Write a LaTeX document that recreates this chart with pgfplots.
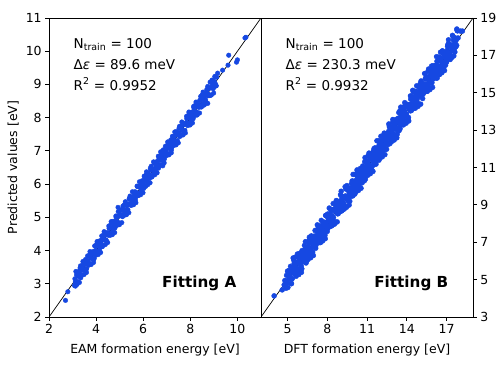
\documentclass[border=0pt]{standalone}
\usepackage{fontspec}
\setmainfont{DejaVu Sans}
\usepackage{pgfplots}
\pgfplotsset{compat=1.18}
\definecolor{ptblue}{HTML}{1648E2}

\pgfplotsset{
  parity/.style={
    scale only axis, width=212pt, height=299pt,
    anchor=south west,
    axis line style={line width=0.8pt},
    tick align=outside, major tick length=3.8pt,
    tick style={black, line width=0.8pt},
    tick label style={font=\fontsize{12.5}{14}\selectfont},
    label style={font=\fontsize{12.5}{14}\selectfont},
    xlabel style={yshift=-3pt},
    /pgf/number format/assume math mode=true,
    clip=true,
  },
  pts/.style={only marks, mark=*, mark size=2.3pt, color=ptblue, mark options={draw=ptblue, fill=ptblue}},
  diag/.style={black, line width=0.7pt, no marks},
}

\begin{document}
\begin{tikzpicture}
\path[use as bounding box] (0pt,0pt) rectangle (498pt,-374pt);

% left panel: EAM
\begin{axis}[parity, at={(49pt,-317pt)},
  xmin=2, xmax=11, ymin=2, ymax=11,
  xtick={2,4,6,8,10}, ytick={2,3,...,11},
  xtick pos=left, ytick pos=left,
  xlabel={EAM formation energy [eV]},
  ylabel={Predicted values [eV]},
]
\addplot[pts] coordinates {
(3.10,3.15)(3.12,3.06)(3.15,3.03)(3.17,3.27)(3.20,3.35)(3.22,3.07)(3.25,3.22)(3.27,3.30)
(3.30,3.39)(3.32,3.48)(3.35,3.18)(3.37,3.27)(3.40,3.41)(3.42,3.49)(3.45,3.57)(3.47,3.41)
(3.50,3.42)(3.52,3.62)(3.55,3.73)(3.57,3.42)(3.60,3.46)(3.62,3.65)(3.65,3.70)(3.67,3.83)
(3.70,3.58)(3.72,3.62)(3.75,3.90)(3.77,3.84)(3.80,3.77)(3.82,3.76)(3.85,3.94)(3.87,3.97)
(3.90,3.73)(3.92,3.77)(3.95,3.96)(3.97,4.00)(4.00,4.12)(4.02,4.18)(4.05,3.97)(4.07,3.97)
(4.10,4.28)(4.12,4.19)(4.15,4.01)(4.17,4.11)(4.20,4.25)(4.22,4.32)(4.25,4.13)(4.27,4.12)
(4.30,4.45)(4.32,4.35)(4.35,4.32)(4.37,4.53)(4.40,4.49)(4.42,4.32)(4.45,4.28)(4.47,4.54)
(4.50,4.51)(4.52,4.46)(4.55,4.67)(4.57,4.67)(4.60,4.52)(4.62,4.47)(4.65,4.83)(4.67,4.70)
(4.70,4.56)(4.72,4.88)(4.75,4.80)(4.77,4.67)(4.80,4.68)(4.82,4.89)(4.85,5.00)(4.87,4.81)
(4.90,4.87)(4.92,5.02)(4.95,5.04)(4.97,4.82)(5.00,4.83)(5.02,5.05)(5.05,5.06)(5.07,5.23)
(5.10,5.22)(5.12,5.02)(5.15,5.07)(5.17,5.24)(5.20,5.38)(5.22,5.16)(5.25,5.11)(5.27,5.37)
(5.30,5.35)(5.32,5.17)(5.35,5.23)(5.37,5.40)(5.40,5.55)(5.42,5.58)(5.45,5.42)(5.47,5.37)
(5.50,5.59)(5.52,5.59)(5.55,5.38)(5.57,5.51)(5.60,5.61)(5.62,5.72)(5.65,5.77)(5.67,5.52)
(5.70,5.62)(5.72,5.75)(5.75,5.93)(5.77,5.93)(5.80,5.66)(5.82,5.72)(5.85,5.90)(5.87,5.94)
(5.90,5.78)(5.92,5.86)(5.95,6.10)(5.97,6.07)(6.00,5.97)(6.02,5.87)(6.05,6.14)(6.07,6.10)
(6.10,5.93)(6.12,6.28)(6.15,6.16)(6.17,6.07)(6.20,6.32)(6.22,6.29)(6.25,6.17)(6.27,6.21)
(6.30,6.48)(6.32,6.42)(6.35,6.21)(6.37,6.22)(6.40,6.45)(6.42,6.45)(6.45,6.33)(6.47,6.63)
(6.50,6.65)(6.52,6.42)(6.55,6.52)(6.57,6.64)(6.60,6.69)(6.62,6.56)(6.65,6.48)(6.67,6.77)
(6.70,6.71)(6.72,6.57)(6.75,6.87)(6.77,6.80)(6.80,6.72)(6.82,6.98)(6.85,7.03)(6.87,6.77)
(6.90,6.76)(6.92,6.99)(6.95,7.00)(6.97,6.91)(7.00,6.88)(7.02,7.12)(7.05,7.20)(7.07,6.92)
(7.10,7.07)(7.12,7.15)(7.15,7.24)(7.17,7.33)(7.20,7.03)(7.22,7.12)(7.25,7.26)(7.27,7.34)
(7.30,7.42)(7.32,7.26)(7.35,7.27)(7.37,7.47)(7.40,7.58)(7.42,7.27)(7.45,7.31)(7.47,7.50)
(7.50,7.55)(7.52,7.68)(7.55,7.43)(7.57,7.47)(7.60,7.75)(7.62,7.69)(7.65,7.62)(7.67,7.61)
(7.70,7.79)(7.72,7.82)(7.75,7.58)(7.77,7.62)(7.80,7.81)(7.82,7.85)(7.85,7.97)(7.87,8.03)
(7.90,7.82)(7.92,7.82)(7.95,8.13)(7.97,8.04)(8.00,7.86)(8.02,7.96)(8.05,8.10)(8.07,8.17)
(8.10,7.98)(8.12,7.97)(8.15,8.30)(8.17,8.20)(8.20,8.17)(8.22,8.38)(8.25,8.34)(8.27,8.17)
(8.30,8.13)(8.32,8.39)(8.35,8.36)(8.37,8.31)(8.40,8.52)(8.42,8.52)(8.45,8.37)(8.47,8.32)
(8.50,8.68)(8.52,8.55)(8.55,8.41)(8.57,8.73)(8.60,8.65)(8.62,8.52)(8.65,8.53)(8.67,8.74)
(8.70,8.85)(8.72,8.66)(8.75,8.72)(8.77,8.87)(8.80,8.89)(8.82,8.67)(8.85,8.68)(8.87,8.90)
(8.90,8.91)(8.92,9.08)(8.95,9.07)(8.97,8.87)(9.00,8.92)(9.02,9.09)(9.05,9.23)(9.07,9.01)
(9.10,8.96)(9.12,9.22)
(3.14,3.37)(3.19,2.98)(3.24,3.29)(3.29,3.04)(3.34,3.54)(3.39,3.26)(3.44,3.67)(3.49,3.28)
(3.54,3.59)(3.59,3.34)(3.64,3.84)(3.69,3.56)(3.74,3.97)(3.79,3.58)(3.84,3.89)(3.89,3.64)
(3.94,4.14)(3.99,3.86)(4.04,4.27)(4.09,3.88)(4.14,4.19)(4.19,3.94)(4.24,4.44)(4.29,4.16)
(4.34,4.57)(4.39,4.18)(4.44,4.49)(4.49,4.24)(4.54,4.74)(4.59,4.46)(4.64,4.87)(4.69,4.48)
(4.74,4.79)(4.79,4.54)(4.84,5.04)(4.89,4.76)(4.94,5.17)(4.99,4.78)(5.04,5.09)(5.09,4.84)
(5.14,5.34)(5.19,5.06)(5.24,5.47)(5.29,5.08)(5.34,5.39)(5.39,5.14)(5.44,5.64)(5.49,5.36)
(5.54,5.77)(5.59,5.38)(5.64,5.69)(5.69,5.44)(5.74,5.94)(5.79,5.66)(5.84,6.07)(5.89,5.68)
(5.94,5.99)(5.99,5.74)(6.04,6.24)(6.09,5.96)(6.14,6.37)(6.19,5.98)(6.24,6.29)(6.29,6.04)
(6.34,6.54)(6.39,6.26)(6.44,6.67)(6.49,6.28)(6.54,6.59)(6.59,6.34)(6.64,6.84)(6.69,6.56)
(6.74,6.97)(6.79,6.58)(6.84,6.89)(6.89,6.64)(6.94,7.14)(6.99,6.86)(7.04,7.27)(7.09,6.88)
(7.14,7.19)(7.19,6.94)(7.24,7.44)(7.29,7.16)(7.34,7.57)(7.39,7.18)(7.44,7.49)(7.49,7.24)
(7.54,7.74)(7.59,7.46)(7.64,7.87)(7.69,7.48)(7.74,7.79)(7.79,7.54)(7.84,8.04)(7.89,7.76)
(7.94,8.17)(7.99,7.78)(8.04,8.09)(8.09,7.84)(8.14,8.34)(8.19,8.06)(8.24,8.47)(8.29,8.08)
(8.34,8.39)(8.39,8.14)(8.44,8.64)(8.49,8.36)(8.54,8.77)(8.59,8.38)(8.64,8.69)(8.69,8.44)
(8.74,8.94)(8.79,8.66)(8.84,9.07)(8.89,8.68)(8.94,8.99)(8.99,8.74)(9.04,9.24)(9.09,8.96)
(2.70,2.50)(2.80,2.76)(3.08,2.95)(3.12,2.93)(8.92,9.13)(9.16,9.34)(9.37,9.43)(9.60,9.58)
(9.63,9.88)(9.96,9.67)(10.00,9.74)(10.32,10.40)(10.36,10.42)(8.74,8.43)(4.93,5.30)(6.83,6.55)
};
\addplot[diag] coordinates {(2,2) (11,11)};
\node[anchor=base west, font=\fontsize{13.5}{16}\selectfont] at (rel axis cs:0.1,0.899) {N\textsubscript{train} = 100};
\node[anchor=base west, font=\fontsize{13.5}{16}\selectfont] at (rel axis cs:0.1,0.828) {Δ\textit{ε} = 89.6 meV};
\node[anchor=base west, font=\fontsize{13.5}{16}\selectfont] at (rel axis cs:0.1,0.759) {R\textsuperscript{2} = 0.9952};
\node[anchor=east, font=\fontsize{15.2}{17}\selectfont\bfseries] at (rel axis cs:0.9,0.113) {Fitting A};
\end{axis}

% right panel: DFT
\begin{axis}[parity, at={(261pt,-317pt)},
  xmin=3, xmax=19, ymin=3, ymax=19,
  xtick={5,8,11,14,17}, ytick={3,5,...,19},
  xtick pos=left, ytick pos=right, yticklabel pos=right,
  xlabel={DFT formation energy [eV]},
]
\addplot[pts, mark size=2.5pt] coordinates {
(4.80,4.95)(4.83,4.65)(4.87,4.93)(4.90,4.54)(4.93,5.23)(4.97,4.82)(5.00,5.45)(5.03,4.58)(5.07,5.28)
(5.10,5.01)(5.13,5.22)(5.17,5.14)(5.20,5.47)(5.23,5.71)(5.27,5.03)(5.30,4.79)(5.33,5.03)(5.37,5.43)
(5.40,5.43)(5.43,5.64)(5.47,5.32)(5.50,5.86)(5.53,5.35)(5.57,5.78)(5.60,5.36)(5.63,5.93)(5.67,5.64)
(5.70,6.24)(5.73,5.28)(5.77,5.53)(5.80,5.38)(5.83,5.92)(5.87,5.93)(5.90,6.05)(5.93,6.41)(5.97,5.82)
(6.00,5.64)(6.03,5.73)(6.07,6.28)(6.10,6.55)(6.13,6.34)(6.17,6.14)(6.20,6.11)(6.23,6.05)(6.27,6.03)
(6.30,6.57)(6.33,6.63)(6.37,6.43)(6.40,5.89)(6.43,5.98)(6.47,6.32)(6.50,6.53)(6.53,6.62)(6.57,6.78)
(6.60,6.96)(6.63,7.11)(6.67,6.64)(6.70,6.46)(6.73,6.43)(6.77,6.53)(6.80,7.34)(6.83,7.04)(6.87,6.93)
(6.90,6.48)(6.93,6.75)(6.97,6.82)(7.00,7.15)(7.03,7.33)(7.07,7.28)(7.10,6.74)(7.13,6.68)(7.17,7.14)
(7.20,7.65)(7.23,7.32)(7.27,7.03)(7.30,7.21)(7.33,7.81)(7.37,7.43)(7.40,7.67)(7.43,7.13)(7.47,7.32)
(7.50,6.99)(7.53,7.74)(7.57,7.78)(7.60,7.63)(7.63,7.45)(7.67,7.64)(7.70,8.06)(7.73,8.03)(7.77,7.53)
(7.80,7.56)(7.83,7.38)(7.87,7.93)(7.90,8.44)(7.93,8.02)(7.97,7.82)(8.00,7.58)(8.03,8.51)(8.07,8.28)
(8.10,8.25)(8.13,7.83)(8.17,8.14)(8.20,7.84)(8.23,8.44)(8.27,8.03)(8.30,8.75)(8.33,8.15)(8.37,8.43)
(8.40,8.31)(8.43,8.73)(8.47,8.32)(8.50,8.77)(8.53,8.08)(8.57,8.78)(8.60,8.09)(8.63,8.72)(8.67,8.64)
(8.70,8.73)(8.73,9.21)(8.77,8.53)(8.80,9.16)(8.83,8.53)(8.87,8.93)(8.90,8.66)(8.93,9.14)(8.97,8.82)
(9.00,9.54)(9.03,8.85)(9.07,9.28)(9.10,8.68)(9.13,9.43)(9.17,9.14)(9.20,9.35)(9.23,8.78)(9.27,9.03)
(9.30,8.94)(9.33,9.42)(9.37,9.43)(9.40,9.85)(9.43,9.91)(9.47,9.32)(9.50,9.41)(9.53,9.23)(9.57,9.78)
(9.60,9.87)(9.63,9.84)(9.67,9.64)(9.70,9.19)(9.73,9.55)(9.77,9.53)(9.80,9.83)(9.83,10.13)(9.87,9.93)
(9.90,10.26)(9.93,9.48)(9.97,9.82)(10.00,9.76)(10.03,10.12)(10.07,10.28)(10.10,10.64)(10.13,10.61)(10.17,10.14)
(10.20,9.78)(10.23,9.93)(10.27,10.03)(10.30,10.45)(10.33,10.54)(10.37,10.43)(10.40,10.04)(10.43,10.25)(10.47,10.32)
(10.50,10.95)(10.53,10.83)(10.57,10.78)(10.60,10.51)(10.63,10.18)(10.67,10.64)(10.70,10.97)(10.73,10.82)(10.77,10.53)
(10.80,10.29)(10.83,11.31)(10.87,10.93)(10.90,10.93)(10.93,10.63)(10.97,10.82)(11.00,11.36)(11.03,11.24)(11.07,11.28)
(11.10,10.86)(11.13,10.95)(11.17,11.14)(11.20,11.74)(11.23,11.53)(11.27,11.03)(11.30,10.88)(11.33,10.88)(11.37,11.43)
(11.40,11.55)(11.43,11.52)(11.47,11.32)(11.50,11.14)(11.53,12.01)(11.57,11.78)(11.60,12.05)(11.63,11.33)(11.67,11.64)
(11.70,11.61)(11.73,11.94)(11.77,11.53)(11.80,12.07)(11.83,11.65)(11.87,11.93)(11.90,11.39)(11.93,12.23)(11.97,11.82)
(12.00,12.03)(12.03,11.58)(12.07,12.28)(12.10,12.46)(12.13,12.22)(12.17,12.14)(12.20,11.96)(12.23,12.71)(12.27,12.03)
(12.30,12.84)(12.33,12.03)(12.37,12.43)(12.40,11.98)(12.43,12.64)(12.47,12.32)(12.50,12.65)(12.53,12.35)(12.57,12.78)
(12.60,12.24)(12.63,12.93)(12.67,12.64)(12.70,13.15)(12.73,12.28)(12.77,12.53)(12.80,12.71)(12.83,12.92)(12.87,12.93)
(12.90,13.17)(12.93,13.41)(12.97,12.82)(13.00,12.49)(13.03,12.73)(13.07,13.28)(13.10,13.13)(13.13,13.34)(13.17,13.14)
(13.20,13.56)(13.23,13.05)(13.27,13.03)(13.30,13.06)(13.33,13.63)(13.37,13.43)(13.40,13.94)(13.43,12.98)(13.47,13.32)
(13.50,13.08)(13.53,13.62)(13.57,13.78)(13.60,13.75)(13.63,14.11)(13.67,13.64)(13.70,13.34)(13.73,13.43)(13.77,13.53)
(13.80,14.25)(13.83,14.04)(13.87,13.93)(13.90,13.81)(13.93,13.75)(13.97,13.82)(14.00,14.27)(14.03,14.33)(14.07,14.28)
(14.10,13.59)(14.13,13.68)(14.17,14.14)(14.20,14.23)(14.23,14.32)(14.27,14.03)(14.30,14.66)(14.33,14.81)(14.37,14.43)
(14.40,14.16)(14.43,14.13)(14.47,14.32)(14.50,15.04)(14.53,14.74)(14.57,14.78)(14.60,14.18)(14.63,14.45)(14.67,14.64)
(14.70,14.85)(14.73,15.03)(14.77,14.53)(14.80,14.44)(14.83,14.38)(14.87,14.93)(14.90,15.35)(14.93,15.02)(14.97,14.82)
(15.00,14.91)(15.03,15.51)(15.07,15.28)(15.10,15.37)(15.13,14.83)(15.17,15.14)(15.20,14.69)(15.23,15.44)(15.27,15.03)
(15.30,15.33)(15.33,15.15)(15.37,15.43)(15.40,15.76)(15.43,15.73)(15.47,15.32)(15.50,15.26)(15.53,15.08)(15.57,15.78)
(15.60,16.14)(15.63,15.72)(15.67,15.64)(15.70,15.28)(15.73,16.21)(15.77,15.53)(15.80,15.95)(15.83,15.53)(15.87,15.93)
(15.90,15.54)(15.93,16.14)(15.97,15.82)(16.00,16.45)(16.03,15.85)(16.07,16.28)(16.10,16.01)(16.13,16.43)(16.17,16.14)
(16.20,16.47)(16.23,15.78)(16.27,16.03)(16.30,15.79)(16.33,16.42)(16.37,16.43)(16.40,16.43)(16.43,16.91)(16.47,16.32)
(16.50,16.86)(16.53,16.23)(16.57,16.78)(16.60,16.36)(16.63,16.84)(16.67,16.64)(16.70,17.24)(16.73,16.55)(16.77,16.53)
(16.80,16.38)(16.83,17.13)(16.87,16.93)(16.90,17.05)(16.93,16.48)(16.97,16.82)(17.00,16.64)(17.03,17.12)(17.07,17.28)
(17.10,17.55)(17.13,17.61)(17.17,17.14)(17.20,17.11)(17.23,16.93)(17.27,17.03)(17.30,17.57)(17.33,17.54)(17.37,17.43)
(17.40,16.89)(17.43,17.25)(17.47,17.32)(17.50,17.53)(17.53,17.83)(17.57,17.78)(17.60,17.96)(17.63,17.18)(17.67,17.64)
(17.70,17.46)(17.73,17.82)(17.77,17.53)(17.80,18.34)(17.83,18.31)(17.87,17.93)
(5.35,5.05)(5.45,6.13)(5.55,5.45)(5.65,5.18)(5.75,6.37)(5.85,5.27)(5.95,6.28)(6.05,5.39)(6.15,6.27)
(6.25,5.95)(6.35,7.03)(6.45,6.35)(6.55,6.08)(6.65,7.27)(6.75,6.17)(6.85,7.18)(6.95,6.29)(7.05,7.17)
(7.15,6.85)(7.25,7.93)(7.35,7.25)(7.45,6.98)(7.55,8.17)(7.65,7.07)(7.75,8.08)(7.85,7.19)(7.95,8.07)
(8.05,7.75)(8.15,8.83)(8.25,8.15)(8.35,7.88)(8.45,9.07)(8.55,7.97)(8.65,8.98)(8.75,8.09)(8.85,8.97)
(8.95,8.65)(9.05,9.73)(9.15,9.05)(9.25,8.78)(9.35,9.97)(9.45,8.87)(9.55,9.88)(9.65,8.99)(9.75,9.87)
(9.85,9.55)(9.95,10.63)(10.05,9.95)(10.15,9.68)(10.25,10.87)(10.35,9.77)(10.45,10.78)(10.55,9.89)(10.65,10.77)
(10.75,10.45)(10.85,11.53)(10.95,10.85)(11.05,10.58)(11.15,11.77)(11.25,10.67)(11.35,11.68)(11.45,10.79)(11.55,11.67)
(11.65,11.35)(11.75,12.43)(11.85,11.75)(11.95,11.48)(12.05,12.67)(12.15,11.57)(12.25,12.58)(12.35,11.69)(12.45,12.57)
(12.55,12.25)(12.65,13.33)(12.75,12.65)(12.85,12.38)(12.95,13.57)(13.05,12.47)(13.15,13.48)(13.25,12.59)(13.35,13.47)
(13.45,13.15)(13.55,14.23)(13.65,13.55)(13.75,13.28)(13.85,14.47)(13.95,13.37)(14.05,14.38)(14.15,13.49)(14.25,14.37)
(14.35,14.05)(14.45,15.13)(14.55,14.45)(14.65,14.18)(14.75,15.37)(14.85,14.27)(14.95,15.28)(15.05,14.39)(15.15,15.27)
(15.25,14.95)(15.35,16.03)(15.45,15.35)(15.55,15.08)(15.65,16.27)(15.75,15.17)(15.85,16.18)(15.95,15.29)(16.05,16.17)
(16.15,15.85)(16.25,16.93)(16.35,16.25)(16.45,15.98)(16.55,17.17)(16.65,16.07)(16.75,17.08)(16.85,16.19)(16.95,17.07)
(17.05,16.75)(17.15,17.83)(17.25,17.15)(17.35,16.88)(17.45,18.07)(17.55,16.97)
(5.08,5.48)(5.18,5.06)(5.28,4.78)(5.38,5.48)(5.48,6.03)(5.58,5.33)(5.68,5.88)(5.78,5.45)(5.88,6.28)
(5.98,5.86)(6.08,5.58)(6.18,6.28)(6.28,6.83)(6.38,6.13)(6.48,6.68)(6.58,6.25)(6.68,7.08)(6.78,6.66)
(6.88,6.38)(6.98,7.08)(7.08,7.63)(7.18,6.93)(7.28,7.48)(7.38,7.05)(7.48,7.88)(7.58,7.46)(7.68,7.18)
(7.78,7.88)(7.88,8.43)(7.98,7.73)(8.08,8.28)(8.18,7.85)(8.28,8.68)(8.38,8.26)(8.48,7.98)(8.58,8.68)
(8.68,9.23)(8.78,8.53)(8.88,9.08)(8.98,8.65)(9.08,9.48)(9.18,9.06)(9.28,8.78)(9.38,9.48)(9.48,10.03)
(9.58,9.33)(9.68,9.88)(9.78,9.45)(9.88,10.28)(9.98,9.86)(10.08,9.58)(10.18,10.28)(10.28,10.83)(10.38,10.13)
(10.48,10.68)(10.58,10.25)(10.68,11.08)(10.78,10.66)(10.88,10.38)(10.98,11.08)(11.08,11.63)(11.18,10.93)(11.28,11.48)
(11.38,11.05)(11.48,11.88)(11.58,11.46)(11.68,11.18)(11.78,11.88)(11.88,12.43)(11.98,11.73)(12.08,12.28)(12.18,11.85)
(12.28,12.68)(12.38,12.26)(12.48,11.98)(12.58,12.68)(12.68,13.23)(12.78,12.53)(12.88,13.08)(12.98,12.65)(13.08,13.48)
(13.18,13.06)(13.28,12.78)(13.38,13.48)(13.48,14.03)(13.58,13.33)(13.68,13.88)(13.78,13.45)(13.88,14.28)(13.98,13.86)
(14.08,13.58)(14.18,14.28)(14.28,14.83)(14.38,14.13)(14.48,14.68)(14.58,14.25)(14.68,15.08)(14.78,14.66)(14.88,14.38)
(14.98,15.08)(15.08,15.63)(15.18,14.93)(15.28,15.48)(15.38,15.05)(15.48,15.88)(15.58,15.46)(15.68,15.18)(15.78,15.88)
(15.88,16.43)(15.98,15.73)(16.08,16.28)(16.18,15.85)(16.28,16.68)(16.38,16.26)(16.48,15.98)(16.58,16.68)(16.68,17.23)
(16.78,16.53)(16.88,17.08)(16.98,16.65)(17.08,17.48)(17.18,17.06)(17.28,16.78)(17.38,17.48)(17.48,18.03)(17.58,17.33)
(3.99,4.13)(4.60,4.45)(4.75,4.72)(5.43,6.16)(5.60,6.20)(17.78,18.41)(18.05,18.30)(18.20,18.30)
};
\addplot[diag] coordinates {(3,3) (19,19)};
\node[anchor=base west, font=\fontsize{13.5}{16}\selectfont] at (rel axis cs:0.1,0.899) {N\textsubscript{train} = 100};
\node[anchor=base west, font=\fontsize{13.5}{16}\selectfont] at (rel axis cs:0.1,0.828) {Δ\textit{ε} = 230.3 meV};
\node[anchor=base west, font=\fontsize{13.5}{16}\selectfont] at (rel axis cs:0.1,0.759) {R\textsuperscript{2} = 0.9932};
\node[anchor=east, font=\fontsize{15.2}{17}\selectfont\bfseries] at (rel axis cs:0.9,0.113) {Fitting B};
\end{axis}
\end{tikzpicture}
\end{document}
